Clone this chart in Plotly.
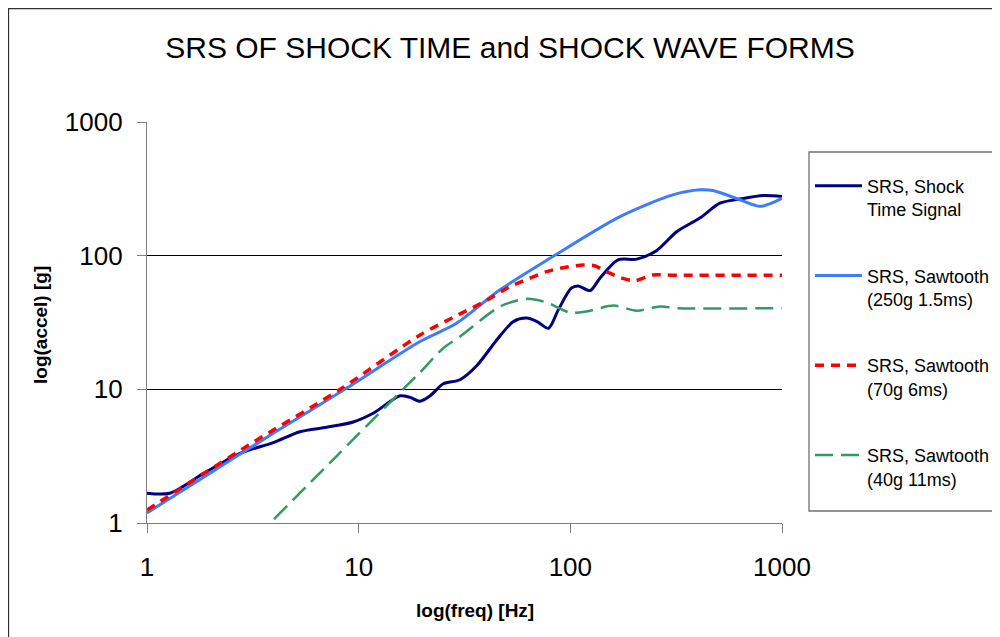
import plotly.graph_objects as go

# ---------------- data ----------------
shock_freq = [1, 1.28, 1.85, 2.75, 3.95, 5.28, 7.06, 9.43, 11.7, 15.7, 17.5, 19.5, 21.7, 25.1, 30.1,
              36.1, 44.9, 53.8, 62.1, 70, 78.7, 87.7, 101, 109, 124, 138, 168, 206, 255, 318,
              409, 509, 633, 815, 1000]
shock_acc = [1.67, 1.67, 2.35, 3.32, 3.99, 4.82, 5.2, 5.7, 6.62, 8.95, 8.7, 8.15, 8.9, 11.0, 11.8,
             15.0, 23.4, 32.1, 34.1, 32.0, 28.6, 39.3, 57.1, 59.4, 54.8, 67.9, 93.1, 94.2, 109, 151,
             191, 247, 265, 282, 277]

saw250_freq = [1, 2, 4, 8.6, 19.5, 29, 46.5, 82.7, 171.6, 305, 409, 472, 633, 787, 908, 1000]
saw250_acc = [1.19, 2.38, 4.75, 10, 22.8, 31.2, 55.5, 98.5, 196, 285, 311, 307, 262, 234, 250, 270]

saw70_freq = [1, 3, 8.18, 19.5, 30, 40, 51.8, 64.5, 77.3, 95, 115, 130, 148, 175, 202, 246, 300, 1000]
saw70_acc = [1.25, 3.8, 10, 25.5, 36.5, 46, 58.7, 67.9, 76, 82, 85, 84, 76, 68, 65, 71.8, 71.5, 71.4]

saw40_freq = [3.98, 8, 16.2, 19.5, 25.1, 30.1, 46.5, 62.1, 77.3, 99.6, 119, 160, 206, 265, 320, 1000]
saw40_acc = [1.07, 3.25, 10, 13.4, 20.3, 24.8, 41.6, 47.5, 44.6, 37.5, 38.2, 42.3, 38.8, 41.6, 40.5, 40.5]

tick_vals = [1, 10, 100, 1000]
tick_text = ["1", "10", "100", "1000"]

names = ["SRS, Shock<br>Time Signal", "SRS, Sawtooth<br>(250g 1.5ms)",
         "SRS, Sawtooth<br>(70g 6ms)", "SRS, Sawtooth<br>(40g 11ms)"]

FONT = "Arial, Liberation Sans, sans-serif"

fig = go.Figure()
fig.add_trace(go.Scatter(x=shock_freq, y=shock_acc, mode="lines", name=names[0], legendgroup="a",
                         line=dict(color="#000080", width=3, shape="spline", smoothing=0.8)))
fig.add_trace(go.Scatter(x=saw250_freq, y=saw250_acc, mode="lines", name=names[1], legendgroup="b",
                         line=dict(color="#3c7cff", width=3, shape="spline", smoothing=0.8)))
fig.add_trace(go.Scatter(x=saw70_freq, y=saw70_acc, mode="lines", name=names[2], legendgroup="c",
                         line=dict(color="#ff0000", width=3.5, dash="9px,7px", shape="spline", smoothing=0.8)))
fig.add_trace(go.Scatter(x=saw40_freq, y=saw40_acc, mode="lines", name=names[3], legendgroup="d",
                         line=dict(color="#339966", width=2.5, dash="18px,8px", shape="spline", smoothing=0.8)))

# the page has an 8px body margin, so the figure origin sits at page (8, 8)
OFF = 8
W, H = 1000, 637
L, T = 147 - OFF, 122 - OFF
PW, PH = 635, 401
R, B = W - L - PW, H - T - PH

def px2x(px):
    return (px - OFF - L) / PW

def py2y(py):
    return (H - B - (py - OFF)) / PH

fig.update_layout(
    width=W, height=H,
    margin=dict(l=L, r=R, t=T, b=B, autoexpand=False),
    paper_bgcolor="white", plot_bgcolor="white",
    font=dict(family=FONT, color="black"),
    title=dict(text="SRS OF SHOCK TIME and SHOCK WAVE FORMS", font=dict(size=30, family=FONT),
               x=(510 - OFF) / W, xanchor="center", y=1 - (47 - OFF) / H, yanchor="middle"),
    showlegend=True,
    legend=dict(x=px2x(810), y=py2y(167.5), xanchor="left", yanchor="top",
                bgcolor="rgba(0,0,0,0)", borderwidth=0, font=dict(size=18, family=FONT),
                tracegroupgap=40, valign="top", itemwidth=47),
    shapes=[
        dict(type="rect", xref="paper", yref="paper", x0=px2x(809), x1=px2x(1010),
             y0=py2y(511), y1=py2y(152), line=dict(color="#707070", width=1.3)),
        dict(type="rect", xref="paper", yref="paper", x0=px2x(8.5), x1=px2x(1010),
             y0=py2y(650), y1=py2y(8.5), line=dict(color="#303030", width=1.3)),
    ],
    annotations=[
        dict(text="<b>log(freq) [Hz]</b>", xref="paper", yref="paper", x=px2x(475), y=py2y(610),
             xanchor="center", yanchor="middle", showarrow=False, font=dict(size=19, family=FONT)),
        dict(text="<b>log(accel) [g]</b>", xref="paper", yref="paper", x=px2x(40), y=py2y(325),
             xanchor="center", yanchor="middle", showarrow=False, textangle=-90,
             font=dict(size=19, family=FONT)),
    ],
)

fig.update_xaxes(type="log", range=[0, 3], tickvals=tick_vals, ticktext=tick_text,
                 showgrid=False, showline=True, linecolor="#808080", linewidth=1.3,
                 ticks="outside", ticklen=9, tickcolor="#808080", tickwidth=1.3,
                 tickfont=dict(size=26, family=FONT), ticklabelstandoff=12, zeroline=False)
fig.update_yaxes(type="log", range=[0, 3], tickvals=tick_vals, ticktext=tick_text,
                 showgrid=True, gridcolor="black", gridwidth=1, showline=True, linecolor="#808080",
                 linewidth=1.3, ticks="outside", ticklen=9, tickcolor="#808080", tickwidth=1.3,
                 tickfont=dict(size=26, family=FONT), ticklabelstandoff=9, zeroline=False)

fig.write_html("out.html")
